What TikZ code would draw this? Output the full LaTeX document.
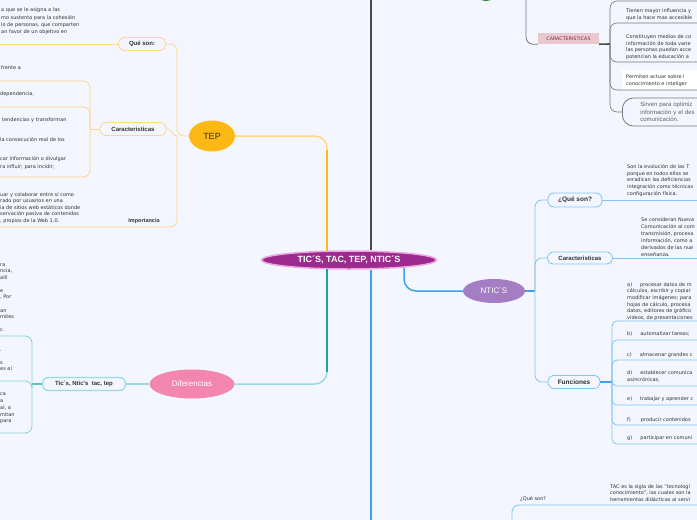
\documentclass[tikz,border=0pt]{standalone}
\usepackage{fontspec}
\setmainfont{DejaVu Sans}
\newfontfamily\arialfont{Liberation Sans}
\usetikzlibrary{shapes.geometric, calc}
\definecolor{bgblue}{RGB}{243,246,254}
\definecolor{tepyel}{RGB}{253,185,19}
\definecolor{teplight}{RGB}{255,214,140}
\definecolor{difpink}{RGB}{243,134,174}
\definecolor{difteal}{RGB}{22,164,168}
\definecolor{diflight}{RGB}{150,218,228}
\definecolor{ntpurple}{RGB}{165,125,195}
\definecolor{ntblue}{RGB}{64,160,234}
\definecolor{ntlight}{RGB}{128,196,242}
\definecolor{mainpurple}{RGB}{156,42,143}
\definecolor{mainglow}{RGB}{236,166,224}
\definecolor{ticgray}{RGB}{72,72,72}
\definecolor{linegray}{RGB}{120,120,120}
\definecolor{carpink}{RGB}{234,200,208}
\definecolor{carred}{RGB}{140,36,52}
\definecolor{txtgray}{RGB}{50,50,50}
\definecolor{ticgreen}{RGB}{46,125,50}

\begin{document}
\begin{tikzpicture}[x=1pt, y=-1pt,
    txt/.style={anchor=west, inner sep=0pt, align=left, text=txtgray, font=\fontsize{5}{7}\selectfont},
    topic/.style={ellipse, inner sep=0pt, font=\arialfont\fontsize{8}{9}\selectfont},
    sub/.style={draw, rounded corners=6pt, line width=0.8pt, fill=bgblue, inner sep=0pt,
        minimum height=13pt, text=txtgray, font=\arialfont\bfseries\fontsize{6}{7}\selectfont},
    link/.style={line width=0.8pt, rounded corners=7pt},
    trunk/.style={line width=1.5pt, rounded corners=12pt}]

\useasboundingbox (0,0) rectangle (697,520);
\fill[bgblue] (0,0) rectangle (697,520);
\clip (0,0) rectangle (697,520);
\coordinate (ledge) at (0,0);
\coordinate (redge) at (697,0);

% centre and trunks
\node[ellipse, fill=mainpurple, draw=mainglow, line width=1.5pt, minimum width=175pt, minimum height=18pt,
    inner sep=0pt, text=white, font=\arialfont\bfseries\fontsize{9}{10}\selectfont] (main) at (349,260) {TIC´S, TAC, TEP, NTIC´S};
\coordinate (tictop) at (371,0);
\coordinate (tacdown) at (371,520);
\draw[ticgray, line width=2pt] (tictop) -- (tictop |- main.north);
\draw[ntblue, line width=1.8pt] (tacdown) -- (tacdown |- main.south);

% TEP
\node[topic, fill=tepyel, minimum width=46pt, minimum height=31pt, text=txtgray,
    font=\arialfont\fontsize{9}{10}\selectfont] (tep) at (212,136) {TEP};
\coordinate (tepup) at (327,251);
\coordinate (tepbend) at (327,150);
\draw[trunk, teplight] (tep.east) -| (tepup);
\draw[tepyel, line width=2.2pt] (tepbend) -- (tepup);

\node[sub, draw=teplight, minimum width=47pt] (tepque) at (142,44) {Qué son:};
\node[sub, draw=teplight, minimum width=66pt] (tepcar) at (133,129) {Caracteristicas};
\node[inner sep=0pt, text=txtgray, font=\arialfont\bfseries\fontsize{5.5}{6}\selectfont] (tepimp) at (144,221) {Importancia};
\coordinate (tepj) at (177,136);
\coordinate (carj) at (90,129);
\draw[link, teplight] (tep.west) -- (tepj) |- (tepque.east);
\draw[link, teplight] (tepque.west) -- (tepque.west -| ledge);
\draw[link, teplight] (tepj) .. controls (172,136) and (172,129) .. (tepcar.east);
\draw[link, teplight] (tepj) |- (0,227);
\draw[link, teplight] (tepcar.west) -- (carj);
\foreach \y in {81,107,177}{
  \coordinate (e) at (0,\y);
  \draw[link, teplight] (carj) |- (e);
}

\node[txt, font=\fontsize{5}{7.3}\selectfont] (tepquetxt) at (1,21.5) {a que se le asigna a las\\mo sustento para la cohesión\\lo de personas, que comparten\\an favor de un objetivo en};
\node[txt] (tepcar1) at (1,68) {frente a};
\node[txt] (tepcar2) at (0,94) {dependencia,};
\node[txt] (tepcar3) at (2,120) {tendencias y transforman};
\node[txt] (tepcar4) at (0,140) {la consecución real de los};
\node[txt, font=\fontsize{5}{7.5}\selectfont] (tepcar5) at (0,163) {car información o divulgar\\ra influir; para incidir;};
\node[txt, font=\fontsize{5}{6.5}\selectfont] (tepimptxt) at (0,208) {uar y colaborar entre sí como\\rado por usuarios en una\\ia de sitios web estáticos donde\\servación pasiva de contenidos\\, propios de la Web 1.0.};

% Diferencias
\node[topic, fill=difpink, text=white, minimum width=85pt, minimum height=29pt] (dif) at (192,384) {Diferencias};
\coordinate (difup) at (327,269);
\coordinate (difbend) at (327,372);
\draw[trunk, diflight] (difup) |- (dif.east);
\draw[difteal, line width=2.2pt] (difup) -- (difbend);
\node[sub, draw=diflight, line width=1.2pt, minimum width=83pt] (tic) at (84,384) {Tic´s, Ntic's\ \ tac, tep};
\coordinate (ticj) at (32,384);
\draw[diflight, line width=1.2pt] (dif.west) -- (tic.east);
\draw[difteal!70, line width=1.2pt] (tic.west) -- (ticj);
\foreach \y in {336,381,433}{
  \coordinate (e) at (0,\y);
  \draw[link, difteal!50] (ticj) |- (e);
}
\node[txt, font=\fontsize{5}{6.5}\selectfont] (diftxt1) at (0,271.5) {ra\\ncia,\\allí};
\node[txt, font=\fontsize{5}{6.5}\selectfont] (diftxt2) at (0,294.5) {e\\, Por};
\node[txt, font=\fontsize{5}{6.5}\selectfont] (diftxt3) at (0,314) {an\\mites};
\node[txt] (diftxt4) at (0,330) {c.};
\node[txt] (diftxt5) at (0,351) {.};
\node[txt, font=\fontsize{5}{6}\selectfont] (diftxt6) at (0,366) {s\\es el};
\node[txt, font=\fontsize{5}{6.7}\selectfont] (diftxt7) at (0,408.5) {ca\\a\\al, a\\mitan\\para};

% NTIC
\node[topic, fill=ntpurple, text=white, minimum width=62pt, minimum height=24pt] (nt) at (494,291) {NTIC´S};
\coordinate (ntup) at (404,268);
\coordinate (ntj) at (535,291);
\draw[trunk, ntblue] (ntup) |- (nt.west);
\draw[ntblue, line width=1.2pt] (nt.east) -- (ntj);
\node[sub, draw=ntlight, minimum width=54pt, minimum height=14pt, font=\arialfont\bfseries\fontsize{6.5}{7}\selectfont] (ntque) at (575,200) {¿Qué son?};
\node[sub, draw=ntlight, minimum width=65pt, minimum height=12pt] (ntcar) at (580,258) {Caracteristicas};
\node[sub, draw=ntlight, minimum width=52pt, minimum height=13pt, font=\arialfont\bfseries\fontsize{6.5}{7}\selectfont] (ntfun) at (574,382) {Funciones};
\foreach \n in {ntque,ntcar,ntfun}
  \draw[link, ntlight] (ntj) |- (\n.west);
\draw[ntlight, line width=0.8pt] (ntque.east) -- (ntque.east -| redge);
\draw[ntlight, line width=0.8pt] (ntcar.east) -- (ntcar.east -| redge);
\coordinate (funj) at (612,382);
\draw[ntblue, line width=1.2pt] (ntfun.east) -- (funj);
\foreach \y in {321,340,360,386,405,425,444}{
  \coordinate (e) at (697,\y);
  \draw[link, ntlight, rounded corners=5pt] (funj) |- (e);
}

\node[txt, font=\fontsize{5}{6.8}\selectfont] (ntquetxt) at (627,180.5) {Son la evolución de las T\\porque en todos ellos se\\erradican las deficiencias\\integración como técnicas\\configuración física.};
\node[txt] (ntcartxt) at (641,237.5) {Se consideran Nueva\\Comunicación al com\\transmisión, procesa\\información, como a\\derivados de las nue\\enseñanza.};
\node[txt, font=\fontsize{5}{6.6}\selectfont] (funa) at (627,301.5) {a)\hspace{8pt}procesar datos de m\\cálculos, escribir y copiar\\modificar imágenes; para\\hojas de cálculo, procesa\\datos, editores de gráfico\\videos, de presentaciones};
\node[txt] (funb) at (627,334) {b)\hspace{8pt}automatizar tareas;};
\node[txt] (func) at (627,355) {c)\hspace{8pt}almacenar grandes c};
\node[txt] (fund) at (627,376.5) {d)\hspace{8pt}establecer comunica\\asincrónicas,};
\node[txt] (fune) at (627,399) {e)\hspace{8pt}trabajar y aprender c};
\node[txt] (funf) at (627,420) {f)\hspace{10pt}producir contenidos};
\node[txt] (fung) at (627,438) {g)\hspace{8pt}participar en comuni};

% TIC (top)
\node[ellipse, fill=ticgreen, minimum width=24pt, minimum height=22pt, inner sep=0pt] (ticroot) at (486,-10) {};
\node[fill=carpink, text=carred, inner sep=0pt, minimum width=61pt, minimum height=11pt,
    font=\fontsize{4.8}{5}\selectfont] (ticcar) at (568.5,38.5) {CARACTERISTICAS};
\coordinate (ticsj) at (526,-20);
\coordinate (carj2) at (610,44);
\draw[link, linegray] (ticsj) |- (ticcar.south west);
\draw[ticgray, line width=1.6pt] (ticcar.south east) -- (carj2);
\fill[white] (622,70) rectangle (697,90);
\node[draw=linegray, line width=0.8pt, rounded corners=11pt, anchor=west, minimum height=28pt, minimum width=110pt,
    inner xsep=18pt, inner ysep=0pt, align=left, text width=90pt, text=linegray!80!black,
    font=\arialfont\fontsize{6}{7.5}\selectfont] (sirv) at (622,112) {Sirven para optimiz\\información y el des\\comunicación.};
\foreach \y in {1,23,62,90}{
  \coordinate (e) at (697,\y);
  \draw[link, linegray, line width=0.6pt] (carj2) |- (e);
}
\draw[link, linegray, line width=0.6pt] (carj2) |- (sirv.west);
\node[txt] (tictxt1) at (626,14.5) {Tienen mayor influencia y\\que la hace mas accesible};
\node[txt, font=\fontsize{5}{6.7}\selectfont] (tictxt2) at (626,47) {Constituyen medios de co\\información de toda varie\\las personas puedan acce\\potencian la educación a};
\node[txt] (tictxt3) at (626,80.5) {Permiten actuar sobre l\\conocimiento e inteliger};

% TAC (bottom)
\coordinate (tacj) at (512,530);
\coordinate (tacend) at (697,505);
\draw[link, ntlight] (tacj) |- (tacend);
\node[txt] (tacque) at (520,499) {¿Qué son?};
\node[txt, font=\fontsize{5}{6.5}\selectfont] (tactxt) at (610,493) {TAC es la sigla de las "tecnologí\\conocimiento", las cuales son la\\herramientas didácticas al servi};
\end{tikzpicture}
\end{document}
